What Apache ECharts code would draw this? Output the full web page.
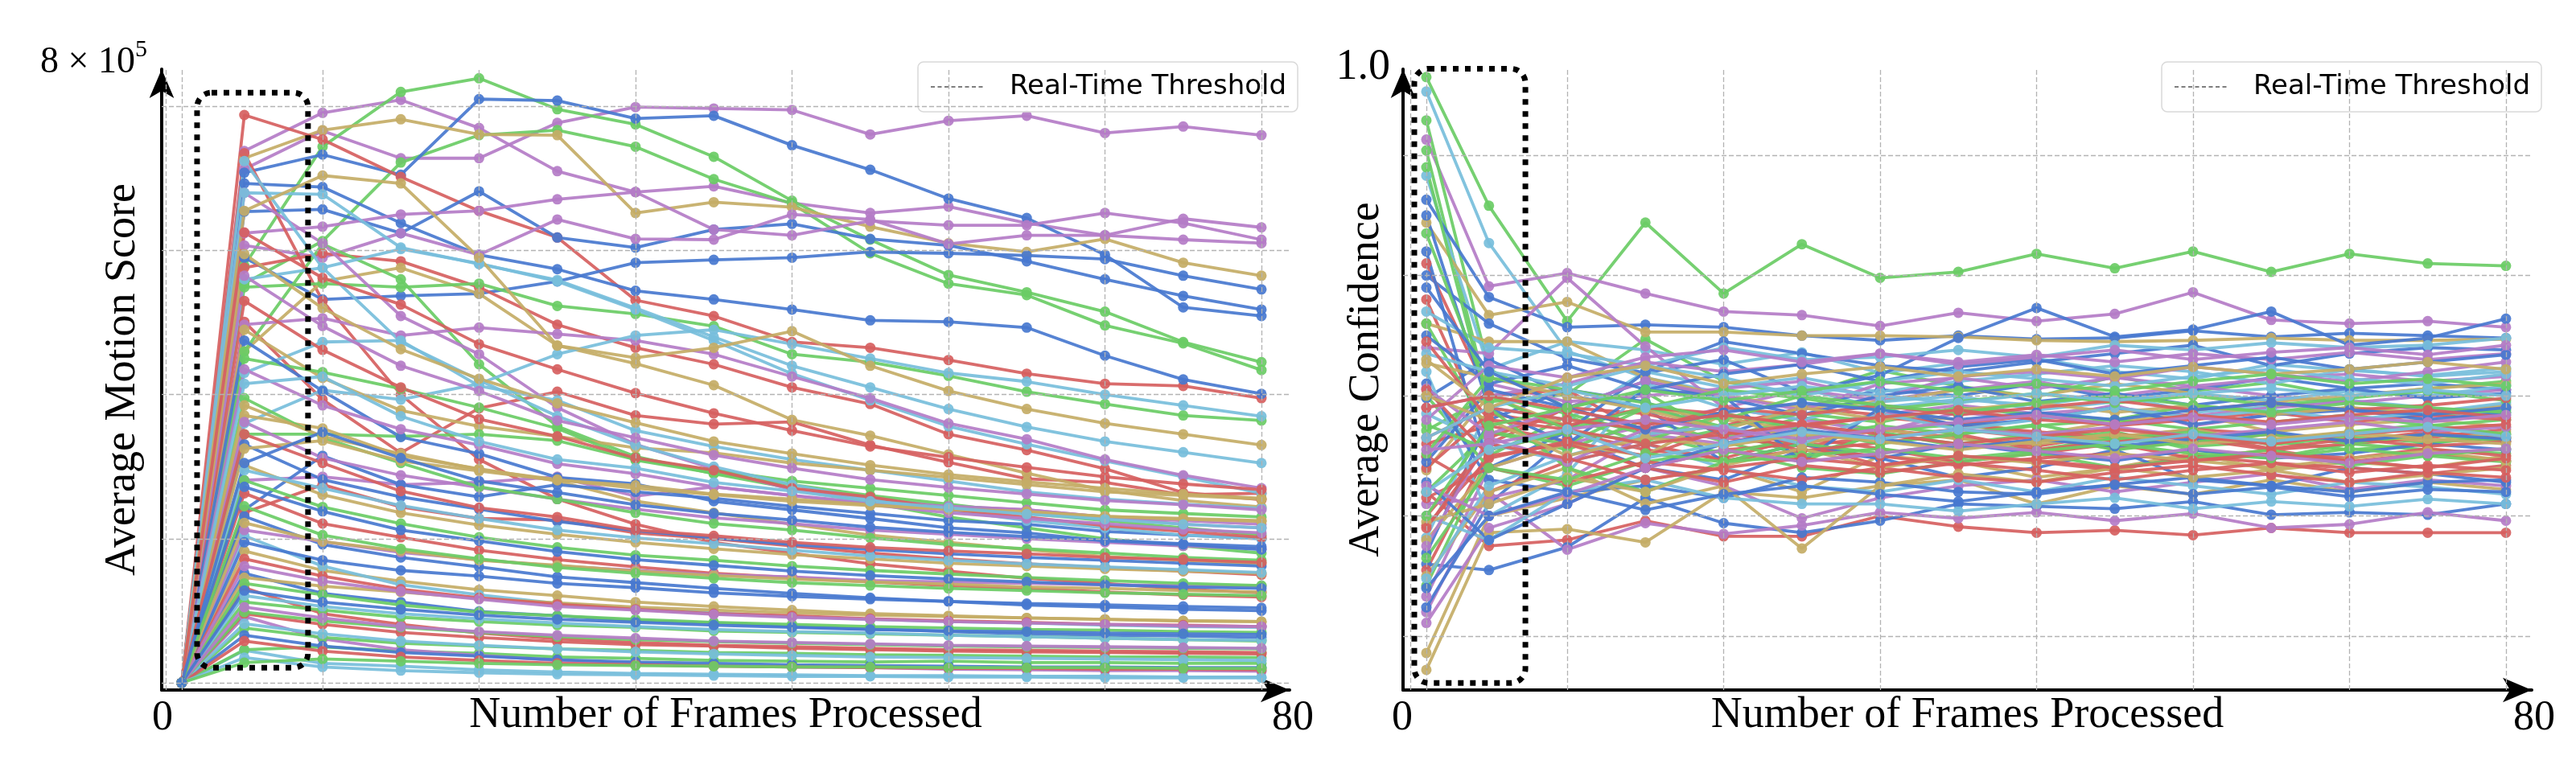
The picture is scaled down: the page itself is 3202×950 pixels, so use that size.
<!DOCTYPE html>
<html lang="en">
<head>
<meta charset="UTF-8">
<title>Motion score / confidence</title>
<style>
  html, body { margin: 0; padding: 0; background: #fff; }
  #chart { width: 3202px; height: 950px; }
</style>
</head>
<body>
<div id="chart"></div>
<script src="https://cdn.jsdelivr.net/npm/echarts@6/dist/echarts.min.js"></script>
<script>
// frames at which every run was sampled
const frames = [1, 5, 10, 15, 20, 25, 30, 35, 40, 45, 50, 55, 60, 65, 70];

// average motion score, in units of 1e5
const motionLines = [
  [0, 7.13, 7.66, 7.28, 7.28, 7.77, 7.99, 7.97, 7.95, 7.61, 7.80, 7.87, 7.63, 7.72, 7.60],
  [0, 7.38, 7.91, 8.09, 7.70, 7.10, 6.81, 6.89, 6.66, 6.52, 6.61, 6.38, 6.21, 6.44, 6.32],
  [0, 5.79, 7.44, 8.20, 8.39, 7.96, 7.75, 7.30, 6.69, 6.15, 5.66, 5.42, 5.15, 4.73, 4.45],
  [0, 5.54, 6.13, 7.22, 7.60, 7.67, 7.44, 6.99, 6.65, 5.96, 5.54, 5.38, 4.96, 4.71, 4.34],
  [0, 7.08, 7.33, 7.05, 8.10, 8.08, 7.83, 7.87, 7.46, 7.12, 6.72, 6.45, 5.94, 5.21, 5.09],
  [0, 7.28, 7.67, 7.82, 7.61, 7.60, 6.52, 6.67, 6.60, 6.33, 6.10, 5.98, 6.16, 5.83, 5.65],
  [0, 7.88, 7.54, 7.02, 6.55, 6.18, 5.31, 5.09, 4.73, 4.65, 4.48, 4.29, 4.15, 4.12, 3.95],
  [0, 6.54, 6.57, 6.24, 6.82, 6.18, 6.04, 6.29, 6.37, 6.16, 6.07, 5.85, 5.60, 5.37, 5.18],
  [0, 6.93, 6.88, 6.38, 5.94, 5.74, 5.44, 5.32, 5.18, 5.03, 5.01, 4.93, 4.54, 4.21, 4.01],
  [0, 5.90, 5.32, 5.37, 5.40, 5.57, 5.83, 5.87, 5.90, 5.98, 5.96, 5.93, 5.88, 5.65, 5.46],
  [0, 6.24, 6.33, 6.50, 6.55, 6.71, 6.81, 6.29, 6.21, 6.41, 6.35, 6.35, 6.52, 6.38, 6.15],
  [0, 6.07, 5.90, 6.24, 5.94, 6.43, 6.16, 6.15, 6.50, 6.43, 6.09, 6.21, 6.21, 6.15, 6.10],
  [0, 5.76, 5.96, 5.85, 5.49, 4.97, 4.65, 4.42, 4.10, 3.87, 3.45, 3.23, 2.97, 2.64, 2.54],
  [0, 7.35, 5.30, 4.00, 3.10, 2.55, 2.20, 1.95, 1.80, 1.65, 1.55, 1.45, 1.38, 1.30, 1.25],
  [0, 5.01, 3.93, 3.19, 3.81, 4.04, 3.71, 3.59, 3.62, 3.30, 3.06, 2.83, 2.78, 2.61, 2.63],
  [0, 4.60, 5.57, 5.76, 5.40, 4.68, 4.43, 4.13, 3.65, 3.43, 3.17, 2.91, 2.67, 2.53, 2.44],
  [0, 4.60, 6.09, 5.60, 4.42, 3.56, 3.14, 2.90, 2.70, 2.50, 2.30, 2.15, 2.00, 1.90, 1.80],
  [0, 5.49, 5.54, 5.49, 5.54, 5.23, 5.12, 4.95, 4.56, 4.45, 4.26, 4.04, 3.87, 3.71, 3.64],
  [0, 5.60, 5.76, 6.02, 5.82, 5.57, 5.18, 4.75, 4.29, 3.92, 3.56, 3.31, 3.08, 2.86, 2.63],
  [0, 4.97, 5.06, 4.82, 4.93, 4.84, 4.75, 4.56, 4.25, 3.95, 3.60, 3.38, 3.10, 2.88, 2.70],
  [0, 6.80, 6.10, 5.09, 4.56, 3.82, 3.31, 2.97, 2.68, 2.56, 2.45, 2.40, 2.30, 2.20, 2.15],
  [0, 4.30, 4.73, 4.75, 4.12, 3.92, 3.50, 3.28, 3.10, 2.95, 2.80, 2.65, 2.55, 2.48, 2.42],
  [0, 3.60, 4.06, 3.93, 4.15, 4.56, 4.82, 4.90, 4.70, 4.50, 4.30, 4.18, 4.00, 3.85, 3.70],
  [0, 4.90, 4.23, 3.78, 3.56, 3.42, 3.26, 3.19, 3.05, 2.95, 2.85, 2.75, 2.65, 2.60, 2.55],
  [0, 4.50, 4.31, 4.08, 3.82, 3.53, 3.09, 2.91, 2.75, 2.60, 2.48, 2.35, 2.25, 2.15, 2.05],
  [0, 3.45, 3.45, 3.42, 3.45, 3.36, 3.10, 2.95, 2.80, 2.70, 2.60, 2.50, 2.40, 2.35, 2.30],
  [0, 3.71, 3.53, 3.15, 2.97, 2.80, 2.52, 2.36, 2.20, 2.05, 1.95, 1.85, 1.75, 1.70, 1.65],
  [0, 2.81, 2.86, 2.75, 2.78, 2.86, 2.59, 2.72, 2.60, 2.50, 2.45, 2.40, 2.30, 2.25, 2.20],
  [0, 2.40, 3.15, 2.75, 2.58, 2.75, 2.65, 2.56, 2.45, 2.35, 2.25, 2.20, 2.10, 2.05, 2.00],
  [0, 2.36, 2.75, 2.44, 2.28, 2.26, 2.08, 2.00, 1.90, 1.80, 1.72, 1.65, 1.60, 1.55, 1.50],
  [0, 0.45, 0.27, 0.23, 0.18, 0.15, 0.13, 0.12, 0.11, 0.10, 0.10, 0.09, 0.09, 0.08, 0.08],
  [0, 0.46, 0.50, 0.44, 0.41, 0.36, 0.34, 0.31, 0.30, 0.29, 0.30, 0.28, 0.28, 0.27, 0.27],
  [0, 0.92, 0.61, 0.46, 0.38, 0.31, 0.27, 0.24, 0.22, 0.21, 0.19, 0.18, 0.17, 0.17, 0.16],
  [0, 1.32, 0.96, 0.81, 0.69, 0.61, 0.56, 0.52, 0.50, 0.48, 0.46, 0.45, 0.44, 0.43, 0.42],
  [0, 1.52, 1.24, 1.12, 0.99, 0.93, 0.86, 0.83, 0.78, 0.75, 0.71, 0.68, 0.66, 0.65, 0.63],
  [0, 0.76, 0.63, 0.55, 0.51, 0.47, 0.45, 0.42, 0.41, 0.39, 0.38, 0.37, 0.36, 0.36, 0.35],
  [0, 1.83, 1.56, 1.41, 1.29, 1.21, 1.12, 1.06, 1.01, 0.96, 0.93, 0.90, 0.88, 0.86, 0.85],
  [0, 2.04, 1.62, 1.36, 1.22, 1.10, 1.03, 0.97, 0.92, 0.88, 0.85, 0.83, 0.80, 0.78, 0.77],
  [0, 2.31, 1.92, 1.74, 1.61, 1.47, 1.39, 1.31, 1.24, 1.18, 1.13, 1.08, 1.05, 1.02, 1.00],
  [0, 2.63, 2.21, 2.02, 1.84, 1.71, 1.61, 1.52, 1.46, 1.40, 1.35, 1.31, 1.26, 1.22, 1.19],
  [0, 2.12, 1.96, 1.81, 1.71, 1.62, 1.56, 1.50, 1.47, 1.42, 1.40, 1.38, 1.36, 1.35, 1.34],
  [0, 1.12, 1.01, 0.91, 0.85, 0.80, 0.77, 0.72, 0.70, 0.68, 0.66, 0.64, 0.62, 0.60, 0.58],
  [0, 3.02, 2.61, 2.36, 2.19, 2.06, 1.95, 1.86, 1.78, 1.72, 1.66, 1.62, 1.58, 1.55, 1.52],
  [0, 3.31, 2.82, 2.58, 2.41, 2.24, 2.11, 2.01, 1.92, 1.85, 1.79, 1.74, 1.70, 1.66, 1.62],
  [0, 1.21, 1.06, 0.96, 0.89, 0.83, 0.78, 0.74, 0.71, 0.69, 0.66, 0.64, 0.62, 0.60, 0.59],
  [0, 0.96, 0.81, 0.70, 0.63, 0.57, 0.53, 0.51, 0.48, 0.46, 0.44, 0.43, 0.42, 0.41, 0.40],
  [0, 3.62, 3.12, 2.88, 2.71, 2.55, 2.41, 2.29, 2.21, 2.12, 2.06, 2.00, 1.95, 1.90, 1.86],
  [0, 2.81, 2.44, 2.21, 2.02, 1.88, 1.77, 1.70, 1.62, 1.56, 1.51, 1.46, 1.42, 1.38, 1.35],
  [0, 1.46, 1.34, 1.26, 1.17, 1.11, 1.05, 1.01, 0.97, 0.94, 0.92, 0.90, 0.88, 0.86, 0.85],
  [0, 0.66, 0.51, 0.42, 0.37, 0.32, 0.29, 0.27, 0.25, 0.24, 0.23, 0.22, 0.22, 0.21, 0.21],
  [0, 6.80, 6.78, 6.04, 5.81, 5.59, 5.20, 4.80, 4.40, 4.10, 3.80, 3.55, 3.35, 3.20, 3.05],
  [0, 7.24, 5.76, 4.73, 4.20, 3.70, 3.30, 3.00, 2.75, 2.55, 2.40, 2.25, 2.15, 2.05, 2.00],
  [0, 6.55, 7.04, 6.93, 5.90, 4.68, 4.51, 4.65, 4.88, 4.40, 4.05, 3.80, 3.60, 3.45, 3.30],
  [0, 5.30, 4.62, 4.10, 3.66, 3.42, 3.12, 2.95, 2.70, 2.58, 2.41, 2.30, 2.18, 2.10, 2.02],
  [0, 4.75, 4.05, 3.41, 3.18, 2.85, 2.76, 2.52, 2.40, 2.28, 2.15, 2.08, 1.97, 1.92, 1.85],
  [0, 3.95, 3.40, 3.05, 2.72, 2.55, 2.36, 2.21, 2.12, 2.01, 1.92, 1.86, 1.80, 1.74, 1.70],
  [0, 4.35, 3.85, 3.52, 3.30, 3.04, 2.90, 2.72, 2.60, 2.47, 2.36, 2.28, 2.21, 2.13, 2.08],
  [0, 3.25, 3.36, 3.08, 2.94, 2.81, 2.74, 2.62, 2.55, 2.47, 2.41, 2.38, 2.31, 2.27, 2.24],
  [0, 2.95, 2.70, 2.46, 2.28, 2.12, 2.01, 1.93, 1.84, 1.76, 1.70, 1.65, 1.61, 1.57, 1.53],
  [0, 1.95, 1.70, 1.56, 1.48, 1.38, 1.32, 1.25, 1.20, 1.16, 1.13, 1.10, 1.08, 1.06, 1.04],
  [0, 1.72, 1.48, 1.30, 1.18, 1.09, 1.02, 0.96, 0.93, 0.89, 0.86, 0.84, 0.81, 0.80, 0.78],
  [0, 1.38, 1.22, 1.08, 0.98, 0.93, 0.88, 0.84, 0.81, 0.78, 0.76, 0.74, 0.73, 0.71, 0.70],
  [0, 1.62, 1.41, 1.27, 1.16, 1.06, 1.01, 0.95, 0.91, 0.88, 0.85, 0.83, 0.81, 0.79, 0.78],
  [0, 2.22, 1.96, 1.83, 1.70, 1.63, 1.55, 1.49, 1.44, 1.40, 1.37, 1.33, 1.31, 1.28, 1.26],
  [0, 0.82, 0.68, 0.58, 0.52, 0.47, 0.43, 0.40, 0.38, 0.36, 0.35, 0.34, 0.33, 0.32, 0.31],
  [0, 0.58, 0.44, 0.36, 0.31, 0.27, 0.25, 0.23, 0.22, 0.21, 0.20, 0.20, 0.19, 0.19, 0.18],
  [0, 2.72, 2.38, 2.12, 1.97, 1.82, 1.71, 1.63, 1.55, 1.49, 1.44, 1.40, 1.36, 1.33, 1.31],
  [0, 0.98, 0.86, 0.77, 0.70, 0.64, 0.60, 0.57, 0.55, 0.53, 0.51, 0.50, 0.49, 0.48, 0.47],
  [0, 1.05, 0.90, 0.78, 0.71, 0.66, 0.62, 0.58, 0.56, 0.54, 0.52, 0.51, 0.50, 0.49, 0.48],
  [0, 3.85, 3.42, 3.18, 2.96, 2.82, 2.70, 2.61, 2.52, 2.46, 2.41, 2.36, 2.31, 2.28, 2.25],
  [0, 4.15, 4.25, 3.70, 3.35, 3.10, 2.98, 2.78, 2.66, 2.52, 2.43, 2.34, 2.27, 2.20, 2.15],
  [0, 3.45, 3.05, 2.66, 2.43, 2.30, 2.12, 2.04, 1.95, 1.88, 1.83, 1.79, 1.74, 1.71, 1.67],
  [0, 1.28, 1.12, 1.02, 0.94, 0.88, 0.84, 0.80, 0.77, 0.74, 0.72, 0.71, 0.69, 0.68, 0.67],
  [0, 2.45, 2.05, 1.86, 1.72, 1.60, 1.52, 1.45, 1.39, 1.35, 1.31, 1.28, 1.25, 1.23, 1.21],
  [0, 5.65, 4.95, 4.40, 4.05, 3.64, 3.40, 3.16, 2.98, 2.82, 2.71, 2.62, 2.53, 2.47, 2.40],
  [0, 5.95, 5.20, 4.63, 4.22, 3.88, 3.61, 3.35, 3.18, 3.02, 2.89, 2.79, 2.70, 2.62, 2.56],
  [0, 6.25, 5.62, 5.25, 4.70, 4.35, 4.02, 3.74, 3.50, 3.28, 3.13, 2.99, 2.86, 2.76, 2.68],
  [0, 0.35, 0.22, 0.17, 0.14, 0.12, 0.11, 0.10, 0.09, 0.09, 0.08, 0.08, 0.07, 0.07, 0.07],
  [0, 0.28, 0.33, 0.30, 0.27, 0.25, 0.24, 0.23, 0.22, 0.22, 0.21, 0.21, 0.21, 0.20, 0.20],
  [0, 3.05, 3.48, 3.12, 2.80, 2.64, 2.47, 2.35, 2.26, 2.16, 2.09, 2.03, 1.98, 1.93, 1.89]
];
const motionColors = [
  'purple', 'purple', 'green', 'green', 'blue', 'tan', 'red', 'blue', 'blue', 'blue',
  'purple', 'purple', 'red', 'red', 'red', 'tan', 'green', 'green', 'cyan', 'purple',
  'purple', 'cyan', 'cyan', 'tan', 'green', 'green', 'tan', 'purple', 'blue', 'red',
  'cyan', 'green', 'purple', 'red', 'blue', 'green', 'tan', 'cyan', 'blue', 'red',
  'purple', 'green', 'tan', 'blue', 'cyan', 'red', 'purple', 'green', 'tan', 'blue',
  'cyan', 'cyan', 'tan', 'red', 'blue', 'green', 'purple', 'tan', 'cyan', 'blue',
  'red', 'green', 'purple', 'tan', 'cyan', 'red', 'blue', 'green', 'purple', 'tan',
  'cyan', 'red', 'blue', 'green', 'purple', 'tan', 'red', 'cyan', 'green', 'blue'
];

// average confidence
const confidenceLines = [
  [0.965, 0.858, 0.762, 0.844, 0.785, 0.826, 0.798, 0.803, 0.818, 0.806, 0.820, 0.803, 0.818, 0.810, 0.808],
  [0.913, 0.791, 0.802, 0.785, 0.770, 0.767, 0.758, 0.769, 0.762, 0.768, 0.786, 0.763, 0.760, 0.762, 0.757],
  [0.953, 0.827, 0.737, 0.715, 0.702, 0.706, 0.690, 0.697, 0.692, 0.701, 0.686, 0.691, 0.696, 0.690, 0.684],
  [0.929, 0.722, 0.690, 0.703, 0.665, 0.682, 0.671, 0.676, 0.668, 0.663, 0.672, 0.659, 0.666, 0.661, 0.665],
  [0.904, 0.695, 0.701, 0.747, 0.712, 0.700, 0.721, 0.708, 0.699, 0.716, 0.704, 0.711, 0.699, 0.706, 0.712],
  [0.883, 0.722, 0.745, 0.738, 0.726, 0.736, 0.719, 0.727, 0.731, 0.720, 0.714, 0.726, 0.721, 0.717, 0.723],
  [0.863, 0.782, 0.757, 0.759, 0.757, 0.750, 0.746, 0.750, 0.747, 0.748, 0.754, 0.749, 0.752, 0.750, 0.748],
  [0.844, 0.767, 0.778, 0.753, 0.753, 0.750, 0.750, 0.749, 0.746, 0.745, 0.746, 0.748, 0.746, 0.746, 0.747],
  [0.800, 0.760, 0.731, 0.719, 0.730, 0.703, 0.717, 0.748, 0.773, 0.749, 0.755, 0.770, 0.742, 0.748, 0.764],
  [0.620, 0.575, 0.580, 0.596, 0.583, 0.583, 0.600, 0.591, 0.586, 0.588, 0.584, 0.590, 0.586, 0.586, 0.586],
  [0.560, 0.555, 0.574, 0.615, 0.594, 0.586, 0.596, 0.610, 0.608, 0.606, 0.612, 0.601, 0.603, 0.601, 0.610],
  [0.520, 0.620, 0.572, 0.594, 0.585, 0.592, 0.603, 0.598, 0.603, 0.596, 0.602, 0.590, 0.593, 0.603, 0.596],
  [0.472, 0.586, 0.589, 0.578, 0.620, 0.615, 0.625, 0.630, 0.610, 0.625, 0.618, 0.630, 0.620, 0.628, 0.622],
  [0.486, 0.600, 0.615, 0.630, 0.640, 0.620, 0.650, 0.645, 0.632, 0.640, 0.652, 0.638, 0.645, 0.640, 0.650],
  [0.511, 0.590, 0.610, 0.640, 0.625, 0.598, 0.615, 0.625, 0.630, 0.620, 0.628, 0.635, 0.622, 0.630, 0.625],
  [0.524, 0.610, 0.665, 0.640, 0.630, 0.655, 0.648, 0.632, 0.640, 0.655, 0.630, 0.625, 0.640, 0.635, 0.628],
  [0.533, 0.640, 0.660, 0.675, 0.690, 0.680, 0.670, 0.686, 0.680, 0.692, 0.675, 0.684, 0.690, 0.682, 0.690],
  [0.542, 0.650, 0.683, 0.660, 0.672, 0.650, 0.668, 0.660, 0.655, 0.665, 0.658, 0.662, 0.655, 0.660, 0.668],
  [0.555, 0.655, 0.670, 0.655, 0.648, 0.665, 0.656, 0.645, 0.652, 0.660, 0.648, 0.655, 0.645, 0.652, 0.646],
  [0.569, 0.680, 0.705, 0.695, 0.667, 0.690, 0.705, 0.700, 0.710, 0.698, 0.705, 0.715, 0.706, 0.710, 0.705],
  [0.582, 0.690, 0.680, 0.720, 0.707, 0.715, 0.703, 0.712, 0.718, 0.725, 0.720, 0.710, 0.722, 0.716, 0.720],
  [0.600, 0.660, 0.690, 0.672, 0.665, 0.658, 0.666, 0.672, 0.665, 0.656, 0.662, 0.668, 0.660, 0.665, 0.672],
  [0.620, 0.670, 0.655, 0.680, 0.662, 0.645, 0.670, 0.658, 0.662, 0.670, 0.655, 0.648, 0.660, 0.655, 0.652],
  [0.638, 0.700, 0.675, 0.690, 0.680, 0.672, 0.685, 0.680, 0.668, 0.678, 0.685, 0.670, 0.676, 0.680, 0.674],
  [0.649, 0.710, 0.695, 0.700, 0.706, 0.712, 0.698, 0.716, 0.720, 0.714, 0.724, 0.718, 0.712, 0.720, 0.728],
  [0.660, 0.675, 0.662, 0.640, 0.655, 0.660, 0.642, 0.650, 0.645, 0.638, 0.650, 0.644, 0.640, 0.635, 0.642],
  [0.671, 0.700, 0.685, 0.668, 0.652, 0.665, 0.675, 0.668, 0.675, 0.680, 0.672, 0.678, 0.684, 0.675, 0.680],
  [0.685, 0.660, 0.645, 0.660, 0.640, 0.625, 0.620, 0.630, 0.620, 0.632, 0.625, 0.618, 0.628, 0.624, 0.618],
  [0.698, 0.730, 0.700, 0.690, 0.645, 0.660, 0.648, 0.660, 0.652, 0.646, 0.655, 0.648, 0.652, 0.660, 0.655],
  [0.810, 0.700, 0.705, 0.668, 0.675, 0.690, 0.684, 0.676, 0.670, 0.665, 0.672, 0.668, 0.662, 0.670, 0.665],
  [0.780, 0.665, 0.690, 0.685, 0.670, 0.660, 0.672, 0.665, 0.658, 0.668, 0.664, 0.655, 0.660, 0.668, 0.662],
  [0.740, 0.735, 0.798, 0.741, 0.690, 0.705, 0.696, 0.705, 0.712, 0.700, 0.708, 0.700, 0.694, 0.700, 0.705],
  [0.760, 0.745, 0.745, 0.715, 0.700, 0.690, 0.695, 0.705, 0.700, 0.710, 0.702, 0.695, 0.700, 0.706, 0.710],
  [0.700, 0.640, 0.625, 0.645, 0.655, 0.640, 0.635, 0.645, 0.652, 0.640, 0.648, 0.655, 0.642, 0.650, 0.645],
  [0.720, 0.600, 0.635, 0.710, 0.690, 0.680, 0.695, 0.700, 0.688, 0.695, 0.702, 0.696, 0.704, 0.700, 0.708],
  [0.820, 0.640, 0.670, 0.720, 0.745, 0.735, 0.725, 0.720, 0.728, 0.735, 0.742, 0.725, 0.735, 0.740, 0.738],
  [0.610, 0.615, 0.630, 0.668, 0.660, 0.675, 0.684, 0.692, 0.685, 0.690, 0.683, 0.690, 0.695, 0.688, 0.690],
  [0.650, 0.620, 0.645, 0.660, 0.646, 0.655, 0.650, 0.642, 0.648, 0.652, 0.645, 0.652, 0.648, 0.656, 0.650],
  [0.580, 0.640, 0.660, 0.650, 0.685, 0.660, 0.672, 0.664, 0.660, 0.666, 0.672, 0.660, 0.668, 0.662, 0.670],
  [0.760, 0.670, 0.660, 0.690, 0.674, 0.685, 0.678, 0.690, 0.684, 0.680, 0.692, 0.686, 0.690, 0.684, 0.688],
  [0.710, 0.630, 0.620, 0.625, 0.615, 0.632, 0.628, 0.620, 0.618, 0.626, 0.632, 0.625, 0.620, 0.628, 0.630],
  [0.770, 0.740, 0.735, 0.725, 0.740, 0.730, 0.732, 0.738, 0.732, 0.742, 0.738, 0.744, 0.740, 0.742, 0.748],
  [0.690, 0.700, 0.710, 0.728, 0.720, 0.726, 0.735, 0.728, 0.734, 0.728, 0.735, 0.730, 0.736, 0.730, 0.735],
  [0.640, 0.685, 0.675, 0.690, 0.685, 0.675, 0.682, 0.676, 0.684, 0.675, 0.680, 0.686, 0.678, 0.684, 0.680],
  [0.550, 0.620, 0.640, 0.610, 0.625, 0.573, 0.625, 0.635, 0.628, 0.640, 0.632, 0.638, 0.628, 0.634, 0.640],
  [0.600, 0.580, 0.620, 0.630, 0.615, 0.610, 0.610, 0.604, 0.610, 0.615, 0.606, 0.612, 0.608, 0.614, 0.610],
  [0.850, 0.690, 0.660, 0.705, 0.700, 0.645, 0.690, 0.675, 0.680, 0.690, 0.676, 0.684, 0.688, 0.680, 0.686],
  [0.890, 0.690, 0.640, 0.620, 0.645, 0.660, 0.652, 0.660, 0.668, 0.655, 0.662, 0.668, 0.660, 0.668, 0.662],
  [0.592, 0.648, 0.662, 0.650, 0.672, 0.654, 0.661, 0.668, 0.655, 0.662, 0.668, 0.656, 0.664, 0.658, 0.662],
  [0.645, 0.705, 0.690, 0.712, 0.698, 0.684, 0.700, 0.708, 0.695, 0.702, 0.692, 0.700, 0.706, 0.698, 0.702],
  [0.676, 0.655, 0.670, 0.662, 0.685, 0.672, 0.660, 0.668, 0.676, 0.664, 0.670, 0.662, 0.670, 0.676, 0.668],
  [0.706, 0.668, 0.690, 0.712, 0.700, 0.688, 0.710, 0.715, 0.706, 0.715, 0.708, 0.714, 0.718, 0.712, 0.716],
  [0.727, 0.715, 0.700, 0.688, 0.672, 0.690, 0.680, 0.688, 0.694, 0.686, 0.692, 0.684, 0.690, 0.686, 0.692],
  [0.548, 0.625, 0.650, 0.668, 0.675, 0.660, 0.685, 0.672, 0.680, 0.690, 0.682, 0.688, 0.680, 0.686, 0.694],
  [0.615, 0.640, 0.628, 0.645, 0.638, 0.630, 0.640, 0.632, 0.628, 0.636, 0.642, 0.634, 0.628, 0.636, 0.632],
  [0.750, 0.710, 0.725, 0.705, 0.718, 0.726, 0.712, 0.724, 0.730, 0.718, 0.725, 0.732, 0.722, 0.728, 0.734],
  [0.835, 0.700, 0.672, 0.690, 0.705, 0.698, 0.688, 0.695, 0.702, 0.694, 0.700, 0.692, 0.698, 0.704, 0.696],
  [0.575, 0.665, 0.645, 0.672, 0.664, 0.676, 0.664, 0.672, 0.668, 0.674, 0.666, 0.672, 0.678, 0.670, 0.674],
  [0.665, 0.690, 0.680, 0.672, 0.690, 0.684, 0.692, 0.684, 0.690, 0.696, 0.688, 0.694, 0.688, 0.692, 0.698],
  [0.595, 0.610, 0.632, 0.620, 0.642, 0.656, 0.640, 0.650, 0.644, 0.652, 0.646, 0.640, 0.648, 0.654, 0.646],
  [0.735, 0.720, 0.708, 0.725, 0.715, 0.700, 0.712, 0.720, 0.714, 0.708, 0.716, 0.722, 0.714, 0.710, 0.718],
  [0.628, 0.580, 0.610, 0.640, 0.660, 0.672, 0.664, 0.656, 0.664, 0.658, 0.664, 0.670, 0.662, 0.668, 0.664],
  [0.652, 0.715, 0.705, 0.694, 0.680, 0.700, 0.692, 0.686, 0.694, 0.700, 0.692, 0.686, 0.694, 0.690, 0.686],
  [0.705, 0.650, 0.660, 0.640, 0.628, 0.642, 0.636, 0.644, 0.638, 0.630, 0.638, 0.644, 0.636, 0.642, 0.638],
  [0.680, 0.725, 0.715, 0.732, 0.738, 0.728, 0.735, 0.726, 0.732, 0.738, 0.730, 0.736, 0.740, 0.734, 0.742],
  [0.700, 0.680, 0.650, 0.665, 0.658, 0.668, 0.662, 0.655, 0.662, 0.668, 0.660, 0.664, 0.670, 0.664, 0.660],
  [0.745, 0.680, 0.672, 0.660, 0.668, 0.676, 0.668, 0.660, 0.666, 0.672, 0.666, 0.660, 0.668, 0.672, 0.676],
  [0.790, 0.720, 0.690, 0.672, 0.686, 0.694, 0.688, 0.680, 0.686, 0.680, 0.688, 0.694, 0.688, 0.684, 0.690],
  [0.665, 0.690, 0.705, 0.690, 0.700, 0.708, 0.700, 0.694, 0.702, 0.696, 0.702, 0.706, 0.700, 0.705, 0.700],
  [0.565, 0.640, 0.630, 0.652, 0.645, 0.650, 0.656, 0.648, 0.654, 0.660, 0.652, 0.648, 0.656, 0.650, 0.656],
  [0.590, 0.660, 0.648, 0.630, 0.640, 0.648, 0.642, 0.650, 0.646, 0.640, 0.646, 0.652, 0.646, 0.640, 0.648],
  [0.625, 0.600, 0.618, 0.640, 0.655, 0.645, 0.652, 0.660, 0.654, 0.648, 0.656, 0.650, 0.644, 0.652, 0.656],
  [0.730, 0.690, 0.715, 0.725, 0.710, 0.718, 0.724, 0.716, 0.722, 0.716, 0.724, 0.718, 0.722, 0.728, 0.722],
  [0.540, 0.600, 0.620, 0.605, 0.618, 0.625, 0.618, 0.612, 0.620, 0.626, 0.618, 0.624, 0.616, 0.622, 0.620],
  [0.690, 0.700, 0.688, 0.676, 0.684, 0.676, 0.682, 0.688, 0.680, 0.676, 0.684, 0.678, 0.684, 0.688, 0.682],
  [0.600, 0.675, 0.690, 0.705, 0.696, 0.704, 0.712, 0.704, 0.710, 0.704, 0.712, 0.718, 0.710, 0.714, 0.708],
  [0.655, 0.660, 0.672, 0.680, 0.672, 0.664, 0.672, 0.678, 0.684, 0.676, 0.682, 0.676, 0.682, 0.678, 0.684],
  [0.620, 0.655, 0.672, 0.648, 0.660, 0.670, 0.664, 0.672, 0.666, 0.660, 0.668, 0.662, 0.668, 0.674, 0.666]
];
const confidenceColors = [
  'green', 'purple', 'cyan', 'green', 'green', 'cyan', 'blue', 'tan', 'blue', 'red',
  'blue', 'purple', 'tan', 'tan', 'purple', 'blue', 'purple', 'green', 'red', 'blue',
  'cyan', 'red', 'green', 'tan', 'purple', 'red', 'green', 'cyan', 'blue', 'red',
  'red', 'purple', 'tan', 'green', 'cyan', 'blue', 'purple', 'red', 'tan', 'green',
  'blue', 'cyan', 'purple', 'red', 'tan', 'cyan', 'blue', 'green', 'red', 'blue',
  'green', 'purple', 'tan', 'cyan', 'red', 'blue', 'green', 'purple', 'red', 'tan',
  'cyan', 'blue', 'green', 'red', 'purple', 'tan', 'red', 'blue', 'cyan', 'green',
  'red', 'purple', 'tan', 'blue', 'red', 'green', 'purple', 'cyan'
];

// grid lines and end labels
const frameGridValues = [0, 10, 20, 30, 40, 50, 60, 70];
const thresholdFrame = 1;
const motionGridValues = [0, 2, 4, 6, 8];
const confidenceGridValues = [0.5, 0.6, 0.7, 0.8, 0.9];
const xEndLabels = ['0', '80'];
const motionTopLabel = ['8 × 10', '5'];
const confidenceTopLabel = '1.0';

// dotted boxes round the first frames, in data units
const motionBox = { x: [1.98, 9.07], y: [0.21, 8.19] };
const confidenceBox = { x: [0.23, 7.33], y: [0.461, 0.972] };

const palette = {
  blue: '#4878CF', green: '#6ACC65', red: '#D65F5F',
  purple: '#B47CC7', tan: '#C4AD66', cyan: '#77BEDB'
};

const xRange = [[-0.28, 71.8], [-0.49, 71.65]];
const yRange = [[-0.1, 8.516], [0.4552, 0.9716]];

const chart = echarts.init(document.getElementById('chart'));

const serif = 'Liberation Serif';
const gridLine = { color: '#b3b3b3', width: 1.3, type: [6, 3] };

function axisLine() {
    return {
        show: true,
        onZero: false,
        symbol: ['none', 'arrow'],
        symbolSize: [23, 36],
        lineStyle: { color: '#000', width: 4 }
    };
}

function guideSeries(idx, yValues) {
    let marks = frameGridValues.concat([thresholdFrame]).map(v => ({ xAxis: v }))
        .concat(yValues.map(v => ({ yAxis: v })));
    return {
        type: 'line',
        xAxisIndex: idx,
        yAxisIndex: idx,
        data: [[-100, -100]],
        showSymbol: false,
        silent: true,
        z: 1,
        markLine: {
            silent: true,
            symbol: 'none',
            animation: false,
            label: { show: false },
            lineStyle: gridLine,
            data: marks
        }
    };
}

function thresholdSeries(idx) {
    return {
        name: 'Real-Time Threshold',
        type: 'line',
        xAxisIndex: idx,
        yAxisIndex: idx,
        data: [],
        symbol: 'none',
        showSymbol: false,
        lineStyle: { color: '#7f7f7f', width: 1.6, type: [5, 3.5] },
        itemStyle: { color: '#7f7f7f' }
    };
}

function runSeries(idx, lines, colors) {
    return lines.map((vals, k) => ({
        type: 'line',
        xAxisIndex: idx,
        yAxisIndex: idx,
        data: frames.map((f, i) => [f, vals[i]]),
        symbol: 'circle',
        symbolSize: 13,
        lineStyle: { width: 3.8, color: palette[colors[k]], opacity: 0.92 },
        itemStyle: { color: palette[colors[k]], opacity: 0.92 },
        silent: true,
        clip: false,
        z: 2
    }));
}

function xAxis(idx) {
    return {
        gridIndex: idx,
        type: 'value',
        min: xRange[idx][0],
        max: xRange[idx][1],
        axisLine: axisLine(),
        axisTick: { show: false },
        axisLabel: { show: false },
        splitLine: { show: false },
        name: 'Number of Frames Processed',
        nameLocation: 'middle',
        nameGap: 5,
        nameTextStyle: { fontFamily: serif, fontSize: 54, color: '#000' }
    };
}

function yAxis(idx, name, gap) {
    return {
        gridIndex: idx,
        type: 'value',
        min: yRange[idx][0],
        max: yRange[idx][1],
        axisLine: axisLine(),
        axisTick: { show: false },
        axisLabel: { show: false },
        splitLine: { show: false },
        name: name,
        nameLocation: 'middle',
        nameGap: gap,
        nameTextStyle: { fontFamily: serif, fontSize: 54, color: '#000' }
    };
}

function legend(left) {
    return {
        data: [{ name: 'Real-Time Threshold', itemStyle: { opacity: 0 } }],
        left: left,
        top: 77,
        orient: 'horizontal',
        selectedMode: false,
        padding: [11, 14, 11, 15],
        itemWidth: 68,
        itemHeight: 14,
        itemStyle: { opacity: 0 },
        backgroundColor: 'rgba(255,255,255,0.8)',
        borderColor: '#d9d9d9',
        borderWidth: 1.5,
        borderRadius: 7,
        textStyle: {
            fontFamily: 'DejaVu Sans',
            fontSize: 34,
            color: '#000',
            lineHeight: 40,
            padding: [0, 0, 0, 25]
        }
    };
}

let option = {
    animation: false,
    backgroundColor: '#fff',
    grid: [
        { left: 201, top: 86, width: 1402, height: 772 },
        { left: 1744, top: 86, width: 1403, height: 772 }
    ],
    legend: [legend(1141), legend(2687)],
    xAxis: [xAxis(0), xAxis(1)],
    yAxis: [yAxis(0, 'Average Motion Score', 21), yAxis(1, 'Average Confidence', 18)],
    series: [guideSeries(0, motionGridValues), guideSeries(1, confidenceGridValues)]
        .concat(runSeries(0, motionLines, motionColors))
        .concat(runSeries(1, confidenceLines, confidenceColors))
        .concat([thresholdSeries(0), thresholdSeries(1)])
};

chart.setOption(option);

// annotations placed from the axes' own scales
function px(idx, x, y) {
    return chart.convertToPixel({ gridIndex: idx }, [x, y]);
}

function boxGraphic(idx, box) {
    let p1 = px(idx, box.x[0], box.y[1]);
    let p2 = px(idx, box.x[1], box.y[0]);
    return {
        type: 'rect',
        silent: true,
        z: 50,
        shape: { x: p1[0], y: p1[1], width: p2[0] - p1[0], height: p2[1] - p1[1], r: 18 },
        style: { fill: null, stroke: '#000', lineWidth: 7, lineDash: [7, 8] }
    };
}

function label(text, x, y, size, align) {
    return {
        type: 'text',
        silent: true,
        z: 50,
        x: x,
        y: y,
        style: {
            text: text,
            fill: '#000',
            font: size + 'px "' + serif + '"',
            textAlign: align,
            textVerticalAlign: 'middle'
        }
    };
}

let o0 = px(0, xRange[0][0], yRange[0][0]);
let e0 = px(0, xRange[0][1], yRange[0][1]);
let o1 = px(1, xRange[1][0], yRange[1][0]);
let e1 = px(1, xRange[1][1], yRange[1][1]);

chart.setOption({
    graphic: [
        boxGraphic(0, motionBox),
        boxGraphic(1, confidenceBox),
        label(xEndLabels[0], o0[0] + 1, o0[1] + 35, 52, 'center'),
        label(xEndLabels[1], e0[0] + 4, o0[1] + 35, 52, 'center'),
        label(xEndLabels[0], o1[0] - 1, o1[1] + 35, 52, 'center'),
        label(xEndLabels[1], e1[0] + 3, o1[1] + 35, 52, 'center'),
        label(motionTopLabel[0], o0[0] - 33, e0[1] - 8, 46, 'right'),
        label(motionTopLabel[1], o0[0] - 33, e0[1] - 24, 30, 'left'),
        label(confidenceTopLabel, o1[0] - 16, e1[1] - 2, 54, 'right')
    ]
});
</script>
</body>
</html>
